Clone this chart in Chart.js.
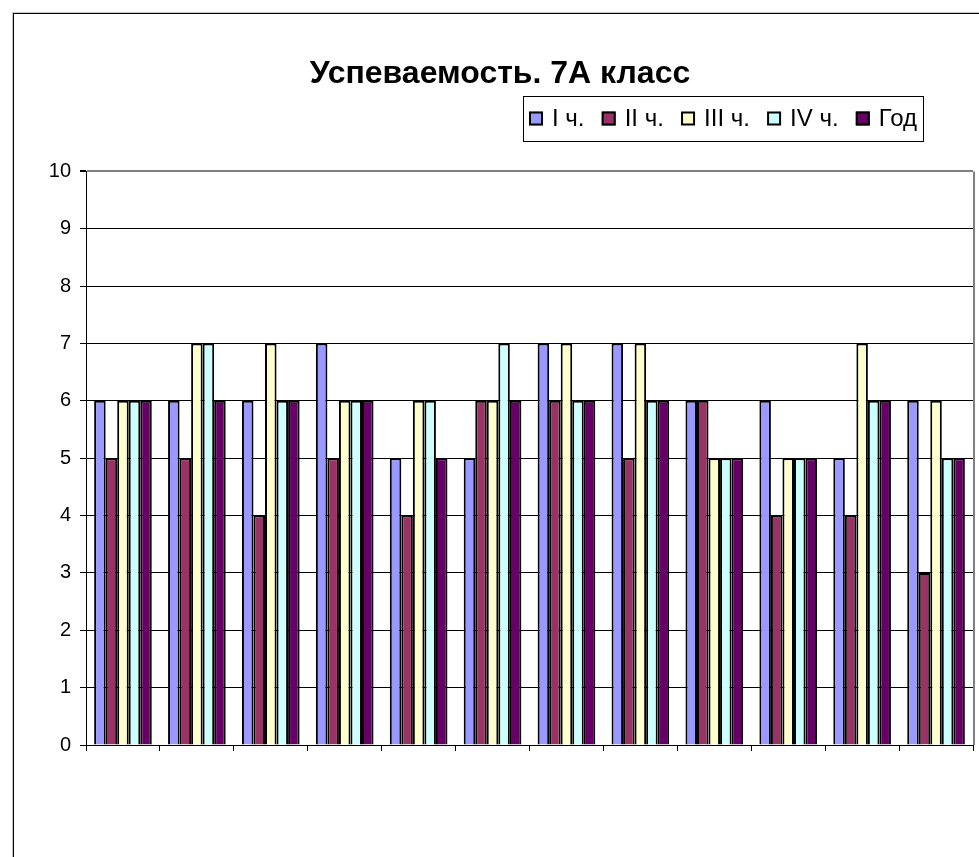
<!DOCTYPE html>
<html>
<head>
<meta charset="utf-8">
<script src="https://cdn.jsdelivr.net/npm/chart.js@4/dist/chart.umd.min.js"></script>
<style>
  html, body { margin: 0; padding: 0; background: #fff; overflow: hidden; }
  #frame {
    position: absolute; left: 13px; top: 13px;
    width: 1000px; height: 900px;
    border: 1px solid #000;
    box-shadow: -1px -1px 0 #c8c8c8;
  }
  #chart { position: absolute; left: 14px; top: 14px; }
</style>
</head>
<body>
<div id="frame"></div>
<canvas id="chart" width="987" height="843"></canvas>
<script>
// data
const categories = ['1', '2', '3', '4', '5', '6', '7', '8', '9', '10', '11', '12'];
const seriesNames = ['I ч.', 'II ч.', 'III ч.', 'IV ч.', 'Год'];
const quarter1 = [6, 6, 6, 7, 5, 5, 7, 7, 6, 6, 5, 6];
const quarter2 = [5, 5, 4, 5, 4, 6, 6, 5, 6, 4, 4, 3];
const quarter3 = [6, 7, 7, 6, 6, 6, 7, 7, 5, 5, 7, 6];
const quarter4 = [6, 7, 6, 6, 6, 7, 6, 6, 5, 5, 6, 5];
const yearMark = [6, 6, 6, 6, 5, 6, 6, 6, 5, 5, 6, 5];
const yTicks = [0, 1, 2, 3, 4, 5, 6, 7, 8, 9, 10];

const seriesColors = ['#9999FF', '#993366', '#FFFFCC', '#CCFFFF', '#660066'];
const FONT = '"Liberation Sans", Arial, sans-serif';

// legend in a thin box, like the old excel one
const boxedLegend = {
    id: 'boxedLegend',
    afterDraw(chart) {
        const ctx = chart.ctx;
        const fontSize = 24;
        const sw = 14;      // swatch size
        const gapIn = 9;    // swatch -> text
        const padX = 6;
        const boxW = 400;
        const boxH = 45;
        ctx.save();
        ctx.font = fontSize + 'px ' + FONT;
        const widths = chart.data.datasets.map(ds => ctx.measureText(ds.label).width);
        let used = 0;
        widths.forEach(w => { used += sw + gapIn + w; });
        const gapOut = (boxW - padX * 2 - used) / (widths.length - 1);
        const right = chart.chartArea.right - 50;
        const left = right - boxW;
        const top = 82;
        ctx.strokeStyle = '#000';
        ctx.lineWidth = 1;
        ctx.strokeRect(Math.round(left) + 0.5, top + 0.5, boxW, boxH);
        let x = left + padX;
        const cy = top + boxH / 2;
        ctx.textBaseline = 'middle';
        chart.data.datasets.forEach((ds, i) => {
            ctx.fillStyle = ds.backgroundColor;
            ctx.fillRect(x, cy - sw / 2, sw, sw);
            ctx.lineWidth = 2;
            ctx.strokeRect(x + 1, cy - sw / 2 + 1, sw - 2, sw - 2);
            x += sw + gapIn;
            ctx.fillStyle = '#000';
            ctx.fillText(ds.label, x, cy + 1);
            x += widths[i] + gapOut;
        });
        ctx.restore();
    }
};

// grey frame on the right of the plot area
const plotFrame = {
    id: 'plotFrame',
    beforeDatasetsDraw(chart) {
        const { ctx, chartArea } = chart;
        ctx.save();
        ctx.strokeStyle = '#808080';
        ctx.lineWidth = 2;
        ctx.beginPath();
        ctx.moveTo(chartArea.right + 1, chartArea.top);
        ctx.lineTo(chartArea.right + 1, chartArea.bottom);
        ctx.stroke();
        ctx.restore();
    }
};

const seriesData = [quarter1, quarter2, quarter3, quarter4, yearMark];

new Chart(document.getElementById('chart'), {
    type: 'bar',
    data: {
        labels: categories,
        datasets: seriesNames.map((name, i) => ({
            label: name,
            data: seriesData[i],
            backgroundColor: seriesColors[i],
            borderColor: '#000',
            borderWidth: 2,
            barPercentage: 1,
            categoryPercentage: 0.78
        }))
    },
    options: {
        responsive: false,
        animation: false,
        layout: {
            padding: { left: 13, right: 28, top: 0, bottom: 106 }
        },
        plugins: {
            legend: { display: false },
            tooltip: { enabled: false },
            title: {
                display: true,
                text: 'Успеваемость. 7А класс',
                color: '#000',
                font: { family: FONT, size: 32, weight: 'bold' },
                padding: { top: 41, bottom: 78 }
            }
        },
        scales: {
            x: {
                offset: true,
                grid: {
                    offset: true,
                    drawOnChartArea: false,
                    drawTicks: true,
                    tickLength: 6,
                    color: '#000'
                },
                border: { color: '#000', width: 1 },
                ticks: { display: false }
            },
            y: {
                min: 0,
                max: 10,
                afterBuildTicks(scale) {
                    scale.ticks = yTicks.map(v => ({ value: v }));
                },
                afterFit(scale) {
                    scale.width = 59;
                },
                ticks: {
                    color: '#000',
                    padding: 9,
                    font: { family: FONT, size: 20 }
                },
                grid: {
                    color: ctx => (ctx.tick && ctx.tick.value === 10 ? '#808080' : '#000'),
                    lineWidth: ctx => (ctx.tick && ctx.tick.value === 10 ? 2 : 1),
                    tickColor: '#000',
                    tickLength: 6
                },
                border: { color: '#000', width: 1 }
            }
        }
    },
    plugins: [plotFrame, boxedLegend]
});
</script>
</body>
</html>
